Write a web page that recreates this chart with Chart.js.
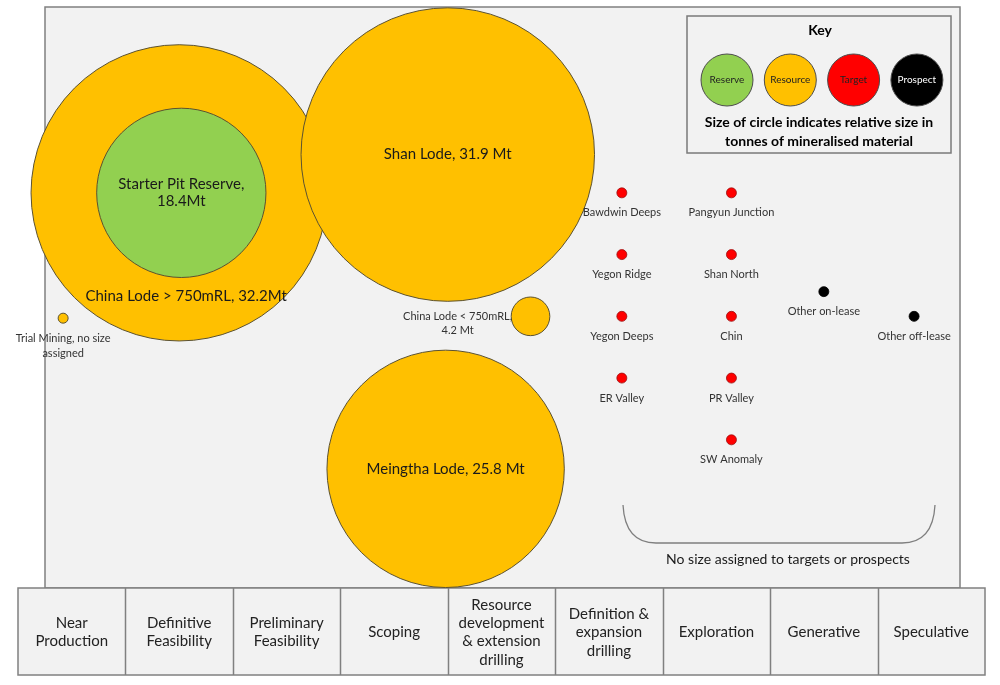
<!DOCTYPE html>
<html>
<head>
<meta charset="utf-8">
<script src="https://cdn.jsdelivr.net/npm/chart.js@4.4.1/dist/chart.umd.min.js"></script>
<style>
  body { margin: 0; background: #fff; }
  #wrap { width: 1000px; height: 685px; position: relative; }
</style>
</head>
<body>
<div id="wrap"><canvas id="pipeline"></canvas></div>
<script>
// stages along the bottom
const stageLabels = [
    ['Near', 'Production'],
    ['Definitive', 'Feasibility'],
    ['Preliminary', 'Feasibility'],
    ['Scoping'],
    ['Resource', 'development', '& extension', 'drilling'],
    ['Definition &', 'expansion', 'drilling'],
    ['Exploration'],
    ['Generative'],
    ['Speculative']
];

// sized deposits (tonnes in Mt), x = stage position, y = row position
const reserveNames = [['Starter Pit Reserve,', '18.4Mt']];
const reserveTonnes = [18.4];
const reserveStage = [1.02];
const reserveRow = [5];

const resourceNames = [
    ['China Lode > 750mRL, 32.2Mt'],
    ['Shan Lode, 31.9 Mt'],
    ['Meingtha Lode, 25.8 Mt'],
    ['China Lode < 750mRL,', '4.2 Mt'],
    ['Trial Mining, no size', 'assigned']
];
const resourceTonnes = [32.2, 31.9, 25.8, 4.2, null];
const resourceStage = [1, 3.5, 3.48, 4.27, -0.08];
const resourceRow = [5, 5.62, 0.53, 3, 2.97];

// unsized targets and prospects
const targetNames = ['Bawdwin Deeps', 'Yegon Ridge', 'Yegon Deeps', 'ER Valley',
    'Pangyun Junction', 'Shan North', 'Chin', 'PR Valley', 'SW Anomaly'];
const targetStage = [5.12, 5.12, 5.12, 5.12, 6.14, 6.14, 6.14, 6.14, 6.14];
const targetRow = [5, 4, 3, 2, 5, 4, 3, 2, 1];

const prospectNames = ['Other on-lease', 'Other off-lease'];
const prospectStage = [7, 7.84];
const prospectRow = [3.4, 3];

const keyLabels = ['Reserve', 'Resource', 'Target', 'Prospect'];
const keyColors = ['#92d050', '#ffc000', '#ff0000', '#000000'];

const PX_PER_MT = 4.6;
const DOT_R = 5;
const FONT = 'Lato, "Open Sans", sans-serif';

function toPoints(stage, row, tonnes) {
    return stage.map((s, i) => ({
        x: s,
        y: row[i],
        r: tonnes && tonnes[i] ? tonnes[i] * PX_PER_MT : DOT_R
    }));
}

// text placement for each dataset: where the label goes relative to the mark
const labelModes = {
    0: ['center'],
    1: ['lower', 'center', 'center', 'left', 'below'],
    2: targetNames.map(() => 'below'),
    3: prospectNames.map(() => 'below')
};

const backdropPlugin = {
    id: 'backdrop',
    beforeDraw(chart) {
        const { ctx, chartArea: a, scales: { x } } = chart;
        ctx.save();
        ctx.fillStyle = '#f2f2f2';
        ctx.strokeStyle = '#808080';
        ctx.lineWidth = 1.5;
        // main panel
        ctx.fillRect(45, a.top, 915, a.bottom - a.top);
        ctx.strokeRect(45, a.top, 915, a.bottom - a.top);
        // stage boxes
        const bTop = a.bottom, bBot = x.bottom;
        ctx.fillRect(a.left, bTop, a.right - a.left, bBot - bTop);
        ctx.strokeRect(a.left, bTop, a.right - a.left, bBot - bTop);
        ctx.beginPath();
        for (let i = 1; i < stageLabels.length; i++) {
            const px = Math.round(x.getPixelForValue(i - 0.5)) + 0.5;
            ctx.moveTo(px, bTop);
            ctx.lineTo(px, bBot);
        }
        ctx.stroke();
        ctx.restore();
    }
};

const labelPlugin = {
    id: 'labels',
    afterDatasetsDraw(chart) {
        const ctx = chart.ctx;
        ctx.save();
        ctx.textAlign = 'center';
        ctx.textBaseline = 'middle';
        chart.data.datasets.forEach((ds, di) => {
            const meta = chart.getDatasetMeta(di);
            meta.data.forEach((el, i) => {
                const mode = labelModes[di][i];
                let lines = ds.names[i];
                if (!Array.isArray(lines)) lines = [lines];
                const r = ds.data[i].r;
                let tx = el.x, ty = el.y, size = 15, lh = 17, color = '#1a1a1a';
                if (mode === 'lower') { ty = el.y + r * 0.7; tx = el.x + 7; }
                if (mode === 'left') { size = 11; lh = 14; color = '#333'; tx = el.x - r + 1; ty = el.y; }
                if (mode === 'below') { size = 11; lh = 15; color = '#333'; ty = el.y + r + 15; }
                ctx.font = size + 'px ' + FONT;
                ctx.fillStyle = color;
                if (mode === 'left') {
                    // first line ends at the circle, second line centred under it
                    const w = ctx.measureText(lines[0]).width;
                    ctx.textAlign = 'right';
                    ctx.fillText(lines[0], tx, ty);
                    ctx.textAlign = 'center';
                    ctx.fillText(lines[1], tx - w / 2, ty + lh);
                    return;
                }
                ctx.textAlign = 'center';
                const start = (mode === 'below') ? ty : ty - (lines.length - 1) * lh / 2;
                lines.forEach((t, k) => ctx.fillText(t, tx, start + k * lh));
            });
        });

        // key box
        ctx.fillStyle = '#f2f2f2';
        ctx.fillRect(687, 16, 264, 137);
        ctx.strokeStyle = '#7a7a7a';
        ctx.lineWidth = 1.5;
        ctx.strokeRect(687, 16, 264, 137);
        ctx.fillStyle = '#000';
        ctx.font = 'bold 14px ' + FONT;
        ctx.fillText('Key', 820, 30);
        keyLabels.forEach((k, i) => {
            const cx = 727 + i * 63.3, cy = 80;
            ctx.beginPath();
            ctx.arc(cx, cy, 26, 0, Math.PI * 2);
            ctx.fillStyle = keyColors[i];
            ctx.fill();
            ctx.lineWidth = 1;
            ctx.strokeStyle = '#4d4d4d';
            ctx.stroke();
            ctx.fillStyle = i === 3 ? '#fff' : '#222';
            ctx.font = '10px ' + FONT;
            ctx.fillText(k, cx, cy);
        });
        ctx.fillStyle = '#000';
        ctx.font = 'bold 14px ' + FONT;
        ctx.fillText('Size of circle indicates relative size in', 819, 122);
        ctx.fillText('tonnes of mineralised material', 819, 141);

        // bracket under the targets and prospects
        ctx.beginPath();
        ctx.strokeStyle = '#7f7f7f';
        ctx.lineWidth = 1.3;
        ctx.moveTo(623, 505);
        ctx.quadraticCurveTo(625, 543, 656, 543);
        ctx.lineTo(902, 543);
        ctx.quadraticCurveTo(933, 543, 935, 505);
        ctx.stroke();
        ctx.fillStyle = '#1a1a1a';
        ctx.font = '14px ' + FONT;
        ctx.fillText('No size assigned to targets or prospects', 788, 559);
        ctx.restore();
    }
};

const edge = '#5c5230';

new Chart(document.getElementById('pipeline'), {
    type: 'bubble',
    data: {
        datasets: [
            {
                label: 'Reserve',
                names: reserveNames,
                data: toPoints(reserveStage, reserveRow, reserveTonnes),
                backgroundColor: keyColors[0],
                borderColor: edge,
                borderWidth: 1
            },
            {
                label: 'Resource',
                names: resourceNames,
                data: toPoints(resourceStage, resourceRow, resourceTonnes),
                backgroundColor: keyColors[1],
                borderColor: edge,
                borderWidth: 1
            },
            {
                label: 'Target',
                names: targetNames,
                data: toPoints(targetStage, targetRow, null),
                backgroundColor: keyColors[2],
                borderColor: '#9a1010',
                borderWidth: 0.8
            },
            {
                label: 'Prospect',
                names: prospectNames,
                data: toPoints(prospectStage, prospectRow, null),
                backgroundColor: keyColors[3],
                borderColor: '#000',
                borderWidth: 0.8
            }
        ]
    },
    options: {
        responsive: true,
        maintainAspectRatio: false,
        animation: false,
        events: [],
        clip: false,
        layout: { autoPadding: false, padding: { left: 18, right: 15, top: 7, bottom: 10 } },
        scales: {
            x: {
                type: 'linear',
                min: -0.5,
                max: 8.5,
                afterBuildTicks: s => { s.ticks = stageLabels.map((_, i) => ({ value: i })); },
                afterFit: s => { s.height = 87; },
                grid: { display: false, drawTicks: false },
                border: { display: false },
                ticks: {
                    autoSkip: false,
                    maxRotation: 0,
                    minRotation: 0,
                    crossAlign: 'center',
                    padding: 17,
                    color: '#222',
                    font: { family: FONT, size: 15, lineHeight: 1.22 },
                    callback: (v, i) => stageLabels[i]
                }
            },
            y: {
                display: false,
                min: -1.4,
                max: 8.01
            }
        },
        plugins: {
            legend: { display: false },
            tooltip: { enabled: false }
        }
    },
    plugins: [backdropPlugin, labelPlugin]
});
</script>
</body>
</html>
